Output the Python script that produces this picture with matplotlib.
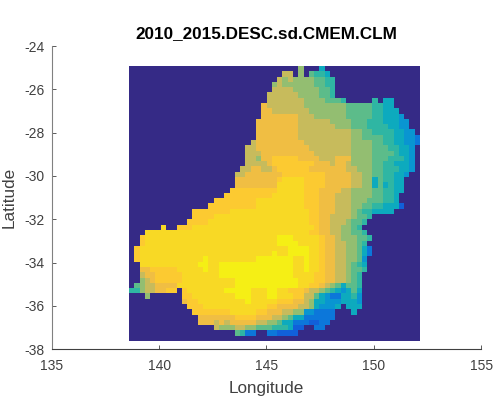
import numpy as np
import matplotlib
matplotlib.use("Agg")
import matplotlib.pyplot as plt
from matplotlib.colors import LinearSegmentedColormap

plt.rcParams['font.family'] = ['Liberation Sans', 'DejaVu Sans']

title = "2010_2015.DESC.sd.CMEM.CLM"
x_ticks = [135, 140, 145, 150, 155]
y_ticks = [-24, -26, -28, -30, -32, -34, -36, -38]
lon_range = (138.62, 152.16)
lat_range = (-37.6, -24.91)
n_cols = 55
n_rows = 52

# parula anchors, sampled from the 64 level MATLAB colormap
parula_index = [0, 6, 10, 15, 20, 24, 29, 34, 39, 44, 49, 54, 57, 61, 63]
parula = [(0.2081, 0.1663, 0.5292), (0.1253, 0.3242, 0.8303), (0.0165, 0.4266, 0.8786),
          (0.0779, 0.5040, 0.8384), (0.0343, 0.5966, 0.8199), (0.0228, 0.6535, 0.7768),
          (0.1133, 0.7015, 0.6859), (0.3022, 0.7376, 0.5712), (0.5300, 0.7491, 0.4661),
          (0.7184, 0.7411, 0.3905), (0.8824, 0.7274, 0.3217), (0.9990, 0.7653, 0.2164),
          (0.9789, 0.8271, 0.1633), (0.9598, 0.9218, 0.0948), (0.9763, 0.9831, 0.0538)]

# field value for each level code, "." is the land background
level_values = {".": 0.0, "0": 0.13, "1": 0.20, "2": 0.31, "3": 0.41, "4": 0.49, "5": 0.56,
                "6": 0.64, "7": 0.73, "8": 0.82, "9": 0.875, "a": 0.92, "b": 0.975}

# first filled column of each row, from north to south
row_start = [32, 29, 28, 27, 27, 26, 26, 25, 25, 25, 24, 24, 24, 24, 23, 22, 22, 22, 22, 21,
             20, 20, 20, 19, 18, 16, 15, 12, 12, 11, 6, 3, 2, 2, 1, 1, 1, 2, 2, 2,
             2, 1, 0, 3, 10, 11, 12, 13, 13, 16, 20]

# pieces of a row follow the groups of columns they were read in
row_levels = [
    "6" "..." "3",
    "77" "." "6" "." "5443",
    "76766665544",
    "676666665544",
    "777766666554",
    "7777776666554",
    "777777766665554" "....." "4" "." "33",
    "87777777" "66666666" "55555" "44" "33",
    "88777777" "76666666" "55555" "44" "333",
    "8888888" "777" "666666" "55555" "44" "333" "2",
    "88888888" "777777" "6666" "555" "444" "33" "322",
    "88888888" "7777777" "666" "555" "44" "44" "3" "322",
    "88888888" "7777777" "777" "66" "55" "44" "44" "33" "22",
    "88888888" "7777777" "777" "66" "55" "55" "44" "33" "22" "1",
    "7" "88888888" "8777777" "777" "66" "66" "55" "44" "33" "22" "1",
    "77" "888888888" "877777" "777" "66" "66" "55" "54" "43" "32",
    "777" "8888888888" "7777" "777" "66" "66" "55" "55" "43" "32",
    "776" "88" "99999" "888" "8777" "888" "66" "66" "55" "54" "44" "32",
    "77" "77" "8" "99999" "999" "8887" "887" "66" "66" "55" "44" "33" "32",
    "77" "88" "77" "8" "99999" "9" "88888" "887" "76" "66" "55" "44" "43" "32",
    "77" "8888" "888" "9999" "9999" "88" "888" "77" "66" "55" "44" "33" "2",
    "88888" "888" "9" "aaaa" "9999" "88" "888" "77" "66" "35" "44" "33",
    "88888" "888" "a" "aaaa" "9999" "88" "888" "77" "66" "35" "34" "33",
    "9" "9999" "999" "9" "aaaaa" "999" "88" "8" "877" "66" "66" "55" "44" "33",
    "99" "9999" "999" "aaa" "aaa" "999" "88" "8" "777" "66" "66" "55" "44" "3",
    "9999" "9999" "aaaa" "aaaaa" "999" "88" "87" "77" "66" "65" "55" "44" "3",
    "9" "9999" "9999" "aaaa" "aaaaa" "999" "88" "87" "77" "66" "55" "44" "33" "3" "0",
    "999" "9999" "aaaa" "aaaaa" "aaaaa" "a99" "88" "87" "77" "65" "44" "33" "33",
    "9999" "aaaa" "aaa" "aaaaa" "aaaaa" "a99" "88" "77" "77" "65" "54",
    "9" "999" "aaaaa" "aaa" "aaaaa" "aaaaa" "a99" "88" "77" "76" "55" "4",
    "a" ".." "999" "aaa" "aaaaa" "aaa" "aaaaa" "aaaaa" "aa9" "88" "77" "66" "54",
    "aaaaaa" "aaa" "aaa" "aaaaa" "aaa" "aaaaa" "aaaaa" "a99" "88" "77" "66" "55" "4",
    "9aaaaaa" "aaa" "aaa" "aaaaa" "aaa" "aaaaa" "bbbaa" "aaa" "98" "87" "66" "65" "54",
    "9aaaaaa" "aaa" "aaa" "aaaaa" "aaa" "aaaaa" "bbbba" "aaa" "98" "87" "76" "65" "4",
    "9" "aaaaaaa" "aaa" "aaa" "aaaaa" "aaa" "aaaaa" "aabbb" "baa" "98" "87" "76" "65" "31",
    "9aaaaaaa" "aaa" "aaa" "aaaaa" "aaa" "aaaab" "aabbb" "baa" "98" "87" "76" "65" "31",
    "9aaaaaaa" "aaa" "aab" "aaaaa" "aaa" "abbbb" "bbbaa" "baa" "98" "87" "76" "65" "2",
    "aaaaaaa" "aaa" "abb" "aabbb" "bbb" "bbbbb" "bbbaa" "baa" "98" "87" "76" "54" "3",
    "8899999" "aaa" "aab" "aabbb" "bbb" "bbbbb" "bbbaa" "baa" "98" "87" "76" "55" "4",
    "7889999" "9aa" "aaa" "aabbb" "bbb" "bbbbb" "bbbaa" "aa9" "98" "87" "76" "54",
    "6789999" "9aa" "aaa" "aaaaa" "bbb" "bbbbb" "bbbba" "aa9" "98" "87" "76" "54",
    "5" "6778888" "aaa" "aaa" "aaaaa" "bbb" "bbbbb" "bbbba" "a99" "87" "65" "35" "54",
    "446778899" "." "9a" "aaa" "aaabb" "bbb" "aaabb" "aa999" "877" "65" "432" "3" "5" "3",
    "6" "......" "99" "aaa" "aaaaa" "bbb" "aaabb" "aaa99" "775" "32" "11" "33" "4" "2",
    "89" "9aa" "aaaaa" "aab" "aaaaa" "99988" "76" "33" "222" "33" "3" "2",
    "9" "99a" "aaaaa" "aaa" "aaa99" "88887" "76" "3" "222" "3" "." "333",
    "999" "9999a" "aaa" "a9988" "87766" "22" "1111" "..." "3",
    "88" "88888" "999" "98887" "76533" "111111",
    "888" "7878" "888" "87766" "5" "33" "1110011",
    "76667766" "555" "444" "3" "00" ".." "11",
    "54" "11" ".." "11" "0000",
]

field = np.zeros((n_rows, n_cols))
for row, (first, levels) in enumerate(zip(row_start, row_levels)):
    for k, code in enumerate(levels[:n_cols - first]):
        field[row, first + k] = level_values[code]

fig = plt.figure(figsize=(4.99, 4.04), dpi=100)
ax = fig.add_axes([51.7 / 499, 1 - 349.3 / 404, 429.5 / 499, 303.3 / 404])

cmap = LinearSegmentedColormap.from_list("parula", [(i / 63, c) for i, c in zip(parula_index, parula)])
ax.imshow(field, cmap=cmap, vmin=0, vmax=1, aspect="auto", interpolation="nearest",
          extent=[lon_range[0], lon_range[1], lat_range[0], lat_range[1]])

ax.set_xlim(135, 155)
ax.set_ylim(-38, -24)
ax.set_xticks(x_ticks)
ax.set_xticklabels([str(v) for v in x_ticks])
ax.set_yticks(y_ticks)
ax.set_yticklabels([str(v) for v in y_ticks])
ax.tick_params(direction="in", length=3, width=0.6, color="#404040", labelcolor="#404040",
               labelsize=10)
ax.tick_params(axis="x", pad=7)
ax.tick_params(axis="y", pad=5)

for side in ["top", "right"]:
    ax.spines[side].set_visible(False)
ax.spines["left"].set_color("#808080")
ax.spines["bottom"].set_color("#404040")

ax.set_xlabel("Longitude", fontsize=12.3, color="#404040", labelpad=6)
ax.set_ylabel("Latitude", fontsize=12.3, color="#404040", labelpad=6)
ax.set_title(title, fontsize=12.3, fontweight="bold", color="black", pad=6)

fig.savefig("out.png", dpi=100)
